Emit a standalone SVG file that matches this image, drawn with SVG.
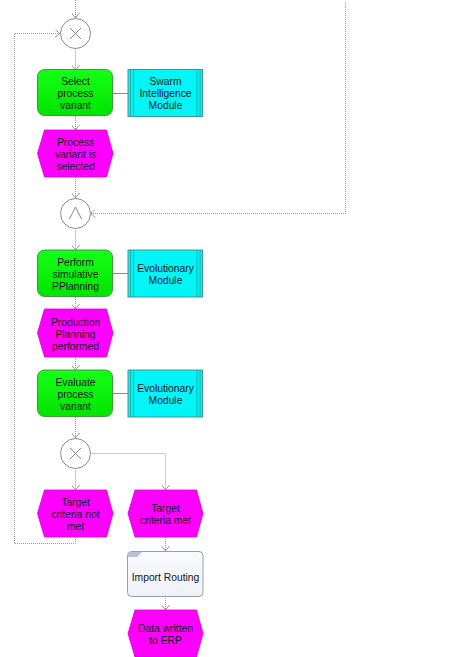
<svg xmlns="http://www.w3.org/2000/svg" width="468" height="657" viewBox="0 0 468 657">
  <defs>
    <marker id="chev" viewBox="0 0 5 8" refX="5" refY="4" markerWidth="5" markerHeight="8" markerUnits="userSpaceOnUse" orient="auto">
      <path d="M0,0 L5,4 L0,8" fill="none" stroke="#8c8c8c" stroke-width="0.9"/>
    </marker>
    <linearGradient id="fnFill" x1="0" y1="0" x2="0" y2="1">
      <stop offset="0" stop-color="#16ff16"/>
      <stop offset="1" stop-color="#00e400"/>
    </linearGradient>
    <linearGradient id="docFill" x1="0" y1="0" x2="0" y2="1">
      <stop offset="0" stop-color="#f9fafd"/>
      <stop offset="1" stop-color="#eef1f7"/>
    </linearGradient>
  </defs>
  <style>
    .flow { fill: none; stroke: #9a9a9a; stroke-width: 1; stroke-dasharray: 1 1; }
    .arrow { marker-end: url(#chev); }
    .link { fill: none; stroke: #8a8a8a; stroke-width: 1; }
    .fn { fill: url(#fnFill); stroke: #3f9a3f; stroke-width: 1; }
    .ev { fill: #ff00ff; stroke: #d000d0; stroke-width: 0.8; }
    .mod { fill: #00f6f6; stroke: #3a9a9a; stroke-width: 1; }
    .modline { stroke: #3a8f8f; stroke-width: 0.8; }
    .op { fill: #ffffff; stroke: #8c8c8c; stroke-width: 1; }
    .sym { fill: none; stroke: #8c8c8c; stroke-width: 1; }
    .doc { fill: url(#docFill); stroke: #9a9ea8; stroke-width: 1; }
    text { font-family: "Liberation Sans", Arial, sans-serif; font-size: 10.3px; fill: #151515; text-anchor: middle; }
  </style>

  <!-- control flow -->
  <g id="connectors">
    <path class="flow arrow" d="M75.5,0 V18"/>
    <path class="flow arrow" d="M75.5,537 V543.5 H14.5 V33.5 H60"/>
    <path class="flow arrow" d="M75.5,48.5 V70"/>
    <path class="flow arrow" d="M75.5,116 V130"/>
    <path class="flow arrow" d="M75.5,177 V198"/>
    <path class="flow arrow" d="M345.5,3 V213.5 H90.5"/>
    <path class="flow arrow" d="M75.5,228.5 V250"/>
    <path class="flow arrow" d="M75.5,297 V309"/>
    <path class="flow arrow" d="M75.5,357 V370"/>
    <path class="flow arrow" d="M75.5,417 V438"/>
    <path class="flow arrow" d="M75.5,468.5 V490"/>
    <path class="flow arrow" d="M90.5,453.5 H165.5 V490"/>
    <path class="flow arrow" d="M165.5,537 V551"/>
    <path class="flow arrow" d="M165.5,596 V610"/>
    <path class="link" d="M113,93.5 H128"/>
    <path class="link" d="M113,273.5 H128"/>
    <path class="link" d="M113,393.5 H128"/>
  </g>

  <g id="xor1">
    <circle class="op" cx="75.5" cy="33.5" r="15"/>
    <path class="sym" d="M70,28 L81,39 M81,28 L70,39"/>
  </g>

  <g id="select-variant">
    <rect class="fn" x="37.5" y="69.5" width="75" height="46" rx="7"/>
    <text x="75.5" y="85">Select</text>
    <text x="75.5" y="97">process</text>
    <text x="75.5" y="109">variant</text>
  </g>

  <g id="swarm-module">
    <rect class="mod" x="128" y="69.5" width="74.5" height="47"/>
    <path class="modline" d="M130.5,69.5 V116.5 M133.5,69.5 V116.5 M197,69.5 V116.5 M200,69.5 V116.5"/>
    <text x="165.5" y="85">Swarm</text>
    <text x="165.5" y="97">Intelligence</text>
    <text x="165.5" y="109">Module</text>
  </g>

  <g id="variant-selected">
    <polygon class="ev" points="44.5,130 106.5,130 113,153.5 106.5,177 44.5,177 37.5,153.5"/>
    <text x="75.5" y="145.5">Process</text>
    <text x="75.5" y="157.5">variant is</text>
    <text x="75.5" y="169.5">selected</text>
  </g>

  <g id="and1">
    <circle class="op" cx="75.5" cy="213.5" r="15"/>
    <path class="sym" d="M69.5,219 L75.5,207 L81.5,219"/>
  </g>

  <g id="perform-pplanning">
    <rect class="fn" x="37.5" y="250" width="75" height="46.5" rx="7"/>
    <text x="75.5" y="265.5">Perform</text>
    <text x="75.5" y="277.5">simulative</text>
    <text x="75.5" y="289.5">PPlanning</text>
  </g>

  <g id="evo-module-1">
    <rect class="mod" x="128" y="250" width="74.5" height="47"/>
    <path class="modline" d="M130.5,250 V297 M133.5,250 V297 M197,250 V297 M200,250 V297"/>
    <text x="165.5" y="271.5">Evolutionary</text>
    <text x="165.5" y="283.5">Module</text>
  </g>

  <g id="planning-performed">
    <polygon class="ev" points="44.5,309 106.5,309 113,333 106.5,357 44.5,357 37.5,333"/>
    <text x="75.5" y="325.5">Production</text>
    <text x="75.5" y="337.5">Planning</text>
    <text x="75.5" y="349.5">performed</text>
  </g>

  <g id="evaluate-variant">
    <rect class="fn" x="37.5" y="370" width="75" height="46.5" rx="7"/>
    <text x="75.5" y="386">Evaluate</text>
    <text x="75.5" y="398">process</text>
    <text x="75.5" y="410">variant</text>
  </g>

  <g id="evo-module-2">
    <rect class="mod" x="128" y="370" width="74.5" height="47"/>
    <path class="modline" d="M130.5,370 V417 M133.5,370 V417 M197,370 V417 M200,370 V417"/>
    <text x="165.5" y="391.5">Evolutionary</text>
    <text x="165.5" y="403.5">Module</text>
  </g>

  <g id="xor2">
    <circle class="op" cx="75.5" cy="453.5" r="15"/>
    <path class="sym" d="M70,448 L81,459 M81,448 L70,459"/>
  </g>

  <g id="criteria-not-met">
    <polygon class="ev" points="44.5,490 106.5,490 113,513.5 106.5,537 44.5,537 37.5,513.5"/>
    <text x="75.5" y="506">Target</text>
    <text x="75.5" y="518">criteria not</text>
    <text x="75.5" y="530">met</text>
  </g>

  <g id="criteria-met">
    <polygon class="ev" points="135,490 196.5,490 203,513.5 196.5,537 135,537 128,513.5"/>
    <text x="165.5" y="511.5">Target</text>
    <text x="165.5" y="523.5">criteria met</text>
  </g>

  <g id="import-routing">
    <rect class="doc" x="127.5" y="551.5" width="75.5" height="45" rx="4"/>
    <path d="M128,552 H142 L137,557 H128 Z" fill="#b9c0d6"/>
    <text x="165.5" y="580.5">Import Routing</text>
  </g>

  <g id="data-written">
    <polygon class="ev" points="135,610 196.5,610 203,633.5 196.5,657 135,657 128,633.5"/>
    <text x="165.5" y="632">Data written</text>
    <text x="165.5" y="644">to ERP</text>
  </g>
</svg>
